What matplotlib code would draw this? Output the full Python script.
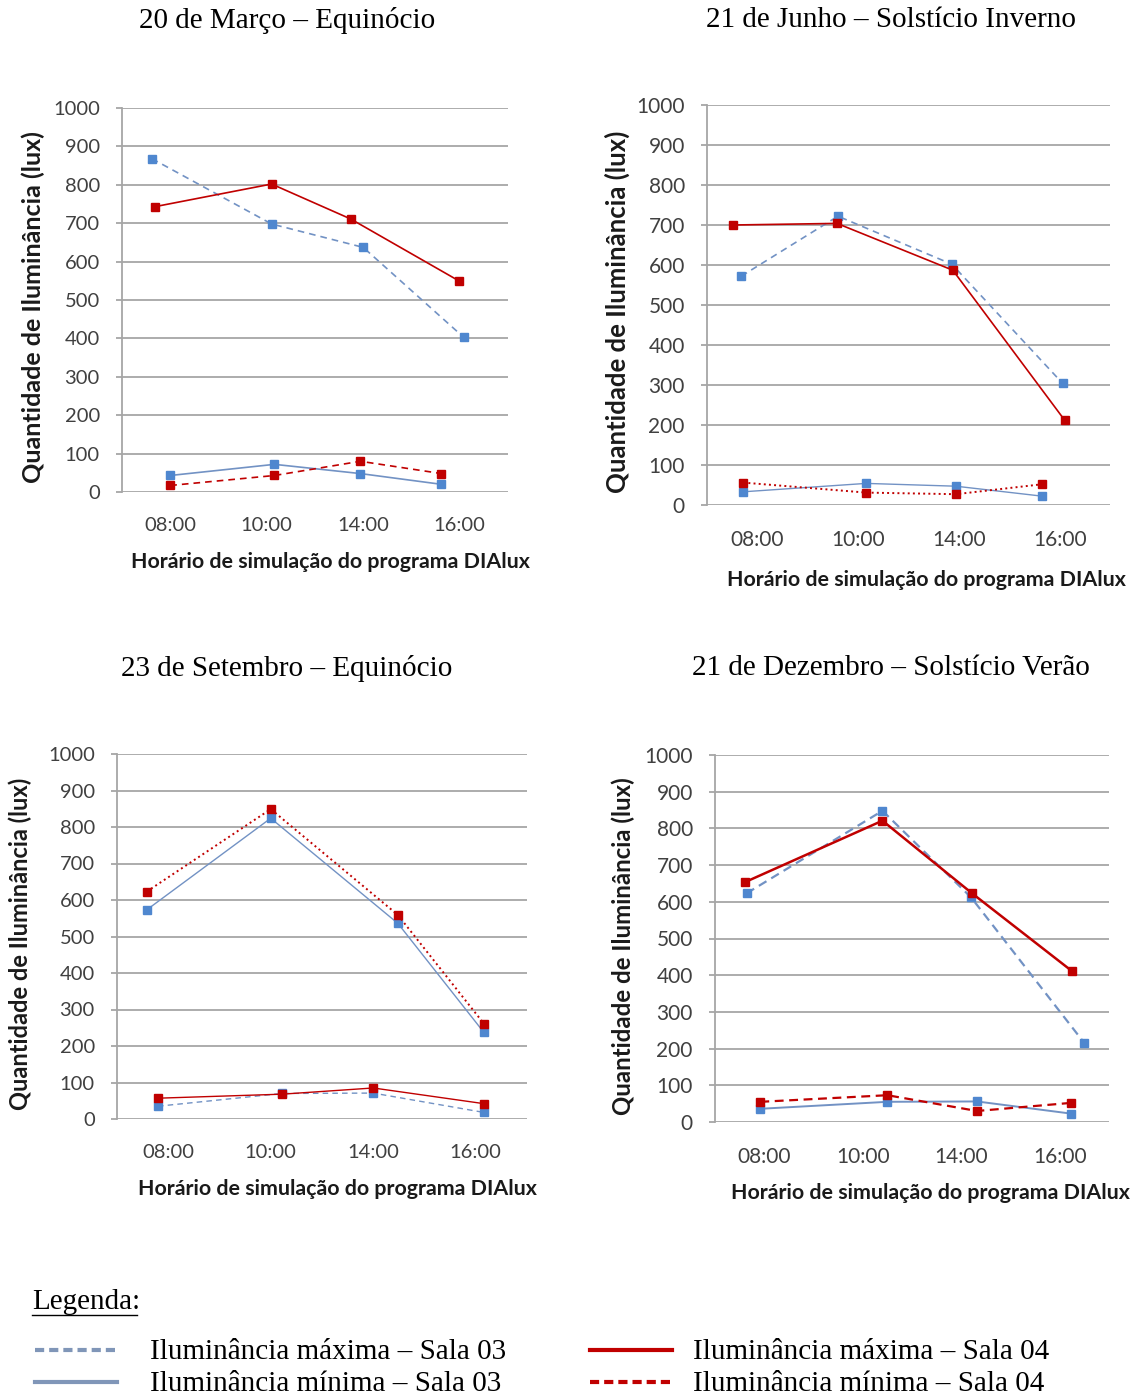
import matplotlib
matplotlib.use("Agg")
import matplotlib.pyplot as plt
from matplotlib.lines import Line2D

W, H = 1148, 1398

horarios = ["08:00", "10:00", "14:00", "16:00"]
yticks = list(range(0, 1001, 100))

titulos = ["20 de Março – Equinócio", "21 de Junho – Solstício Inverno",
           "23 de Setembro – Equinócio", "21 de Dezembro – Solstício Verão"]

# valores (lux)
marco_max03 = [868, 698, 637, 403]
marco_max04 = [743, 802, 711, 550]
marco_min03 = [43, 72, 48, 20]
marco_min04 = [17, 43, 80, 48]

junho_max03 = [572, 722, 602, 304]
junho_max04 = [700, 704, 587, 212]
junho_min03 = [33, 54, 47, 22]
junho_min04 = [56, 31, 27, 52]

setembro_max03 = [573, 824, 536, 237]
setembro_max04 = [623, 849, 559, 261]
setembro_min03 = [35, 70, 71, 18]
setembro_min04 = [57, 68, 85, 42]

dezembro_max03 = [623, 848, 612, 215]
dezembro_max04 = [653, 821, 623, 412]
dezembro_min03 = [36, 55, 56, 23]
dezembro_min04 = [55, 73, 30, 52]

# posicao horizontal dos pontos (em unidades de categoria, como no original)
marco_x_max03 = [-0.19, 1.05, 2.0, 3.04]
marco_x_max04 = [-0.16, 1.05, 1.87, 2.99]
marco_x_min = [0.0, 1.08, 1.97, 2.81]

junho_x_max03 = [-0.16, 0.80, 1.93, 3.03]
junho_x_max04 = [-0.24, 0.79, 1.94, 3.05]
junho_x_min = [-0.14, 1.08, 1.97, 2.83]

setembro_x_max = [-0.21, 1.0, 2.24, 3.08]
setembro_x_min = [-0.10, 1.11, 2.0, 3.08]

dezembro_x_max03 = [-0.18, 1.20, 2.10, 3.25]
dezembro_x_max04 = [-0.20, 1.20, 2.11, 3.12]
dezembro_x_min = [-0.04, 1.25, 2.16, 3.11]

AZUL_LINHA = "#7292c4"
AZUL_MARCA = "#4f87cf"
VERMELHO = "#c00000"
GRADE = "#a6a6a6"

plt.rcParams["font.family"] = "Lato"

fig = plt.figure(figsize=(W / 100, H / 100), dpi=100)


def px_axes(left, right, top, bottom):
    return fig.add_axes([left / W, 1 - bottom / H, (right - left) / W, (bottom - top) / H])


# caixa de cada grafico em pixels: esquerda, direita, y(1000), y(0)
caixas = [(122, 508, 108, 492), (707, 1110, 105, 505),
          (117, 527, 754, 1119), (715, 1109, 755, 1122)]
centros_titulo = [(287, 20), (891, 20), (287, 668), (891, 668)]
centros_xlabel = [(330, 562), (926, 580), (337, 1189), (930, 1193)]
centros_ylabel = [(33, 307), (617, 312), (20, 944), (623, 946)]
tam_ylabel = [18, 18.5, 17, 17.3]
tam_ticks = [14.5, 15, 14.5, 15]

series = [
    # (x, y, cor linha, cor marcador, estilo, espessura)
    [(marco_x_max03, marco_max03, AZUL_LINHA, AZUL_MARCA, (0, (4, 3)), 1.2),
     (marco_x_max04, marco_max04, VERMELHO, VERMELHO, "-", 1.2),
     (marco_x_min, marco_min03, AZUL_LINHA, AZUL_MARCA, "-", 1.2),
     (marco_x_min, marco_min04, VERMELHO, VERMELHO, (0, (4, 3)), 1.2)],
    [(junho_x_max03, junho_max03, AZUL_LINHA, AZUL_MARCA, (0, (4, 3)), 1.2),
     (junho_x_max04, junho_max04, VERMELHO, VERMELHO, "-", 1.2),
     (junho_x_min, junho_min03, AZUL_LINHA, AZUL_MARCA, "-", 1.0),
     (junho_x_min, junho_min04, VERMELHO, VERMELHO, ":", 1.4)],
    [(setembro_x_max, setembro_max03, AZUL_LINHA, AZUL_MARCA, "-", 1.0),
     (setembro_x_max, setembro_max04, VERMELHO, VERMELHO, ":", 1.4),
     (setembro_x_min, setembro_min03, AZUL_LINHA, AZUL_MARCA, (0, (4, 3)), 1.0),
     (setembro_x_min, setembro_min04, VERMELHO, VERMELHO, "-", 1.0)],
    [(dezembro_x_max03, dezembro_max03, AZUL_LINHA, AZUL_MARCA, (0, (4, 2.5)), 1.6),
     (dezembro_x_max04, dezembro_max04, VERMELHO, VERMELHO, "-", 1.8),
     (dezembro_x_min, dezembro_min03, AZUL_LINHA, AZUL_MARCA, "-", 1.4),
     (dezembro_x_min, dezembro_min04, VERMELHO, VERMELHO, (0, (4, 2.5)), 1.6)],
]

for i in range(4):
    l, r, t, b = caixas[i]
    ax = px_axes(l, r, t, b)
    for xs, ys, cl, cm, ls, lw in series[i]:
        ax.plot(xs, ys, linestyle=ls, color=cl, lw=lw, marker="s", ms=6,
                mfc=cm, mec=cm, zorder=3, clip_on=False)
    ax.set_xlim(-0.5, 3.5)
    ax.set_ylim(0, 1000)
    ax.set_yticks(yticks)
    ax.set_xticks(range(4))
    ax.set_xticklabels(horarios)
    ax.grid(axis="y", color=GRADE, lw=1.3)
    ax.set_axisbelow(True)
    for s in ["top", "right", "bottom"]:
        ax.spines[s].set_visible(False)
    ax.spines["left"].set_color(GRADE)
    ax.spines["left"].set_linewidth(1.3)
    ax.tick_params(axis="y", length=4, width=1.3, color=GRADE, pad=12,
                   labelsize=tam_ticks[i], labelcolor="#404040")
    ax.tick_params(axis="x", length=0, pad=18, labelsize=tam_ticks[i], labelcolor="#404040")

    cx, cy = centros_titulo[i]
    fig.text(cx / W, 1 - cy / H, titulos[i], ha="center", va="center",
             fontsize=21, family="Liberation Serif")
    cx, cy = centros_xlabel[i]
    fig.text(cx / W, 1 - cy / H, "Horário de simulação do programa DIAlux",
             ha="center", va="center", fontsize=15.4, fontweight="bold", color="#1a1a1a")
    cx, cy = centros_ylabel[i]
    fig.text(cx / W, 1 - cy / H, "Quantidade de Iluminância (lux)", ha="center",
             va="center", rotation=90, fontsize=tam_ylabel[i], fontweight="bold",
             color="#1a1a1a")

# legenda
fig.text(32 / W, 1 - 1302 / H, "Legenda:", ha="left", va="center",
         fontsize=21, family="Liberation Serif")
fig.add_artist(Line2D([32 / W, 137 / W], [1 - 1315 / H, 1 - 1315 / H], color="black", lw=1))

legenda = [
    ("Iluminância máxima – Sala 03", "#8096b8", (0, (2.2, 1.2)), 35, 150, 1350),
    ("Iluminância mínima – Sala 03", "#8096b8", "-", 35, 150, 1382),
    ("Iluminância máxima – Sala 04", VERMELHO, "-", 590, 693, 1350),
    ("Iluminância mínima – Sala 04", VERMELHO, (0, (2.2, 1.2)), 590, 693, 1382),
]
for txt, cor, ls, x0, xt, y in legenda:
    fig.add_artist(Line2D([x0 / W, (x0 + 82) / W], [1 - y / H, 1 - y / H],
                          color=cor, lw=3, linestyle=ls))
    fig.text(xt / W, 1 - (y + 2) / H, txt, ha="left", va="center",
             fontsize=21, family="Liberation Serif")

fig.savefig("out.png", dpi=100)
